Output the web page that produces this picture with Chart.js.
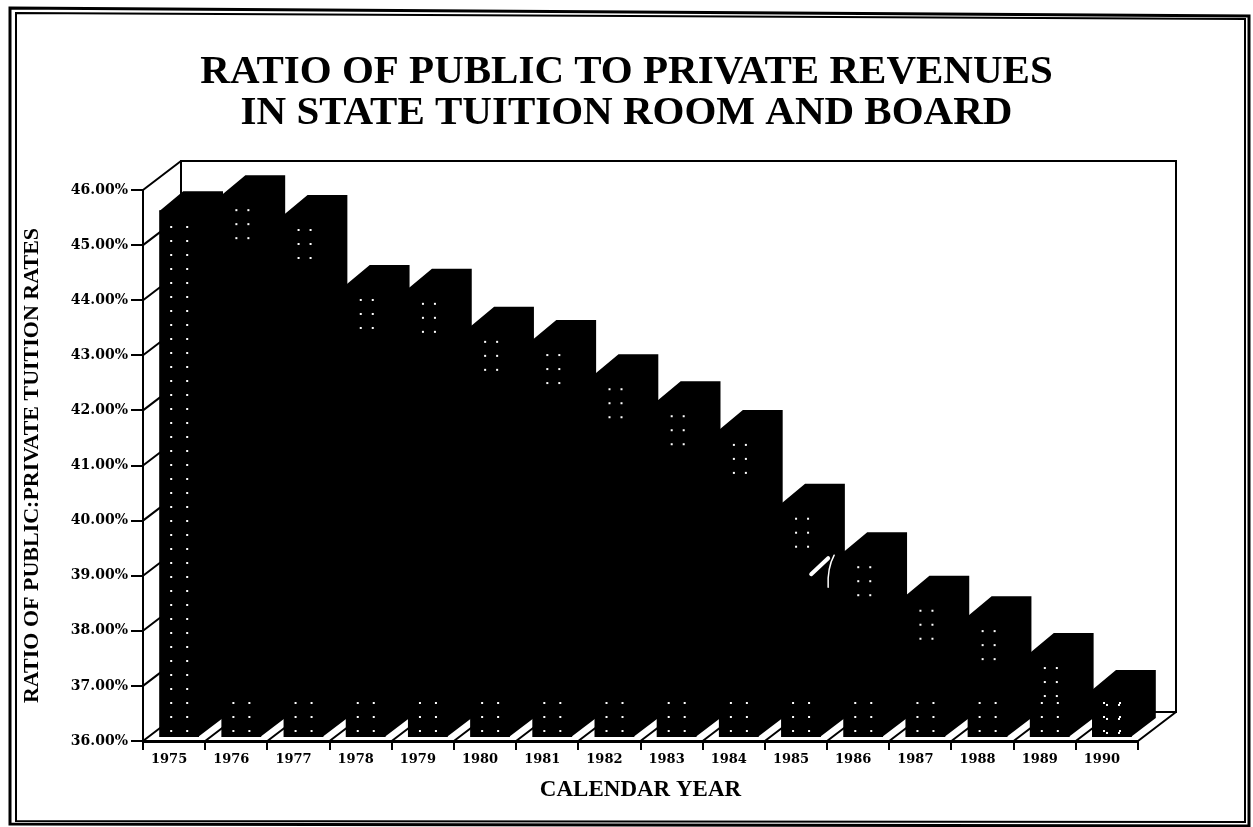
<!DOCTYPE html>
<html>
<head>
<meta charset="utf-8">
<style>
  html, body { margin: 0; padding: 0; background: #fff; }
  canvas { display: block; }
</style>
<script src="https://cdn.jsdelivr.net/npm/chart.js@4"></script>
</head>
<body>
<canvas id="tuitionChart" width="1253" height="827"></canvas>
<script>
const years = ["1975", "1976", "1977", "1978", "1979", "1980", "1981", "1982",
               "1983", "1984", "1985", "1986", "1987", "1988", "1989", "1990"];
const ratios = [45.58, 45.87, 45.51, 44.24, 44.17, 43.48, 43.24, 42.62,
                42.13, 41.61, 40.27, 39.39, 38.60, 38.23, 37.56, 36.89];
const yMin = 36;
const yMax = 46;
const titleLines = ["RATIO OF PUBLIC TO PRIVATE REVENUES", "IN STATE TUITION ROOM AND BOARD"];
const yTitle = "RATIO OF PUBLIC:PRIVATE TUITION RATES";
const xTitle = "CALENDAR YEAR";

// how far the box and the bars recede into the page
const wallDx = 38, wallDy = 29;
const barDx = 24, barDy = 19;
const barShiftX = 5, barShiftY = -3;
const ink = "#000";
const serif = "'Liberation Serif', serif";
const wideSerif = "'DejaVu Serif', serif";

function polyline(ctx, pts, width) {
  ctx.lineWidth = width;
  ctx.beginPath();
  pts.forEach((p, i) => i ? ctx.lineTo(p[0], p[1]) : ctx.moveTo(p[0], p[1]));
  ctx.closePath();
  ctx.stroke();
}

const boxPlugin = {
  id: "box",
  beforeDatasetsDraw(chart) {
    const { ctx, chartArea: a, scales } = chart;
    // back wall, floor and the little diagonals off each axis tick
    ctx.save();
    ctx.strokeStyle = ink;
    ctx.lineWidth = 2;
    ctx.beginPath();
    ctx.rect(a.left + wallDx, a.top - wallDy, a.width, a.height);
    ctx.moveTo(a.right, a.bottom);
    ctx.lineTo(a.right + wallDx, a.bottom - wallDy);
    scales.y.ticks.forEach(t => {
      const y = scales.y.getPixelForValue(t.value);
      ctx.moveTo(a.left, y);
      ctx.lineTo(a.left + wallDx, y - wallDy);
    });
    const step = a.width / years.length;
    years.forEach((_, i) => {
      ctx.moveTo(a.left + step * i, a.bottom);
      ctx.lineTo(a.left + step * i + wallDx, a.bottom - wallDy);
    });
    ctx.stroke();
    ctx.restore();

    // top and side of each bar, the native front faces go on top
    const meta = chart.getDatasetMeta(0);
    ctx.save();
    ctx.fillStyle = ink;
    meta.data.forEach(bar => {
      const l = bar.x - bar.width / 2 + barShiftX;
      const r = bar.x + bar.width / 2 + barShiftX;
      const top = bar.y + barShiftY;
      const bottom = bar.base + barShiftY;
      ctx.beginPath();
      ctx.moveTo(l, top + 1);
      ctx.lineTo(l + barDx, top - barDy);
      ctx.lineTo(r + barDx, top - barDy);
      ctx.lineTo(r + barDx, bottom - barDy);
      ctx.lineTo(r - 1, bottom);
      ctx.lineTo(r - 1, top + 1);
      ctx.closePath();
      ctx.fill();
    });
    ctx.restore();
    ctx.save();
    ctx.translate(barShiftX, barShiftY);
  },
  afterDatasetsDraw(chart) {
    const { ctx } = chart;
    ctx.restore();
    const meta = chart.getDatasetMeta(0);
    ctx.save();
    // scattered print dots left on the front faces
    ctx.fillStyle = "#fff";
    meta.data.forEach((bar, i) => {
      const l = bar.x - bar.width / 2 + barShiftX;
      const top = i === 0 ? bar.y + 4 : bar.base - 44;
      for (let y = bar.base - 10; y > top; y -= 14) {
        ctx.fillRect(l + 11, y, 2, 2);
        ctx.fillRect(l + 27, y, 2, 2);
      }
      if (i > 0) {
        for (let y = bar.y + 12; y < bar.y + 48; y += 14) {
          ctx.fillRect(l + 14, y, 2, 2);
          ctx.fillRect(l + 26, y, 2, 2);
        }
      }
    });
    // white scratch on the scan between 1985 and 1986
    const b = meta.data[11];
    ctx.strokeStyle = "#fff";
    ctx.lineCap = "round";
    ctx.lineWidth = 4;
    ctx.beginPath();
    ctx.moveTo(b.x - 47, b.y + 20);
    ctx.lineTo(b.x - 30, b.y + 4);
    ctx.stroke();
    ctx.lineWidth = 1.5;
    ctx.beginPath();
    ctx.moveTo(b.x - 24, b.y + 1);
    ctx.quadraticCurveTo(b.x - 31, b.y + 14, b.x - 30, b.y + 33);
    ctx.stroke();
    ctx.restore();
  },
  afterDraw(chart) {
    // double rule round the page, skewed a little like the scan
    const { ctx } = chart;
    ctx.save();
    ctx.strokeStyle = ink;
    polyline(ctx, [[10, 8], [1249, 16], [1249, 826], [10, 824]], 3);
    polyline(ctx, [[16, 13], [1245, 19], [1245, 822], [16, 821]], 2);
    ctx.restore();
  }
};

new Chart(document.getElementById("tuitionChart"), {
  type: "bar",
  data: {
    labels: years,
    datasets: [{
      data: ratios,
      base: yMin,
      backgroundColor: ink,
      borderWidth: 0,
      barPercentage: 0.64,
      categoryPercentage: 1
    }]
  },
  options: {
    responsive: false,
    animation: false,
    layout: { padding: 0 },
    plugins: {
      legend: { display: false },
      tooltip: { enabled: false },
      title: {
        display: true,
        text: titleLines,
        color: ink,
        font: { family: serif, size: 41, weight: "bold", lineHeight: 1 },
        padding: { top: 52, bottom: 56 }
      }
    },
    scales: {
      x: {
        afterFit(scale) { scale.height = 86; },
        grid: { display: true, drawOnChartArea: false, color: ink, lineWidth: 2, tickLength: 9 },
        border: { color: ink, width: 3 },
        ticks: { color: ink, font: { family: wideSerif, size: 13, weight: "bold" }, maxRotation: 0, autoSkip: false, labelOffset: -5, padding: 2 },
        title: { display: true, text: xTitle, color: ink, font: { family: serif, size: 23, weight: "bold" }, padding: { top: 0, bottom: 23 } }
      },
      y: {
        min: yMin,
        max: yMax,
        afterFit(scale) { scale.width = 143; },
        grid: { display: true, drawOnChartArea: false, color: ink, lineWidth: 2, tickLength: 12 },
        border: { color: ink, width: 2 },
        ticks: {
          stepSize: 1,
          color: ink,
          font: { family: wideSerif, size: 14, weight: "bold" },
          padding: 3,
          callback: v => v.toFixed(2) + "%"
        },
        title: { display: true, text: yTitle, color: ink, font: { family: serif, size: 22, weight: "bold" }, padding: { top: 19, bottom: 0 } }
      },
      // empty axis, only reserves the margin on the right for the box depth
      rightMargin: {
        position: "right",
        afterFit(scale) { scale.width = 115; },
        grid: { display: false },
        border: { display: false },
        ticks: { display: false }
      }
    }
  },
  plugins: [boxPlugin]
});
</script>
</body>
</html>
